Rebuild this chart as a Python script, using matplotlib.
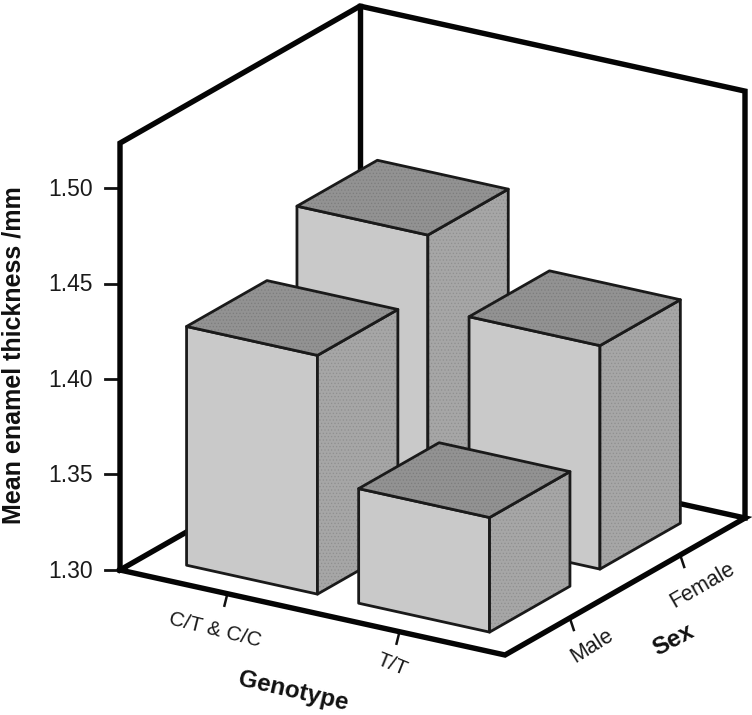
import numpy as np
import matplotlib
matplotlib.use('Agg')
import matplotlib.pyplot as plt
from matplotlib.patches import Polygon

plt.rcParams['font.family'] = ['Liberation Sans', 'DejaVu Sans']
plt.rcParams['hatch.linewidth'] = 0.5

# Data
genotypes = ['C/T & C/C', 'T/T']
sexes = ['Male', 'Female']
male_values = [1.425, 1.360]
female_values = [1.455, 1.417]
value_ticks = [1.30, 1.35, 1.40, 1.45, 1.50]

# Oblique projection (pixels): a along genotype, b along sex, v is the value
origin = np.array([120., 570.])
a_vec = np.array([385., 85.])
b_vec = np.array([240., -137.])
v_min, v_top = 1.30, 1.5235
px_per_unit = 1910.

a_pos = [0.279, 0.726]
b_pos = [0.27, 0.73]
a_width = 0.34
b_width = 0.335


def P(a, b, v=v_min):
    return origin + a*a_vec + b*b_vec - np.array([0, (v-v_min)*px_per_unit])


def line(ax, pts, lw=3.9, color='#050505'):
    pts = np.array(pts)
    ax.plot(pts[:, 0], pts[:, 1], color=color, lw=lw, solid_capstyle='projecting',
            solid_joinstyle='miter', zorder=2)


def face(ax, pts, color, zorder, stipple=None):
    if stipple:
        ax.add_patch(Polygon(pts, closed=True, facecolor=color, edgecolor=stipple, hatch='.....', lw=0, zorder=zorder))
    else:
        ax.add_patch(Polygon(pts, closed=True, facecolor=color, edgecolor='none', zorder=zorder))
    ax.add_patch(Polygon(pts, closed=True, fill=False, edgecolor='#1a1a1a', lw=2.0, joinstyle='round', zorder=zorder+0.1))


def bar(ax, ac, bc, v, zorder):
    a0, a1 = ac-a_width/2, ac+a_width/2
    b0, b1 = bc-b_width/2, bc+b_width/2
    front = [P(a0, b0), P(a1, b0), P(a1, b0, v), P(a0, b0, v)]
    side = [P(a1, b0), P(a1, b1), P(a1, b1, v), P(a1, b0, v)]
    top = [P(a0, b0, v), P(a1, b0, v), P(a1, b1, v), P(a0, b1, v)]
    face(ax, front, '#c9c9c9', zorder)
    face(ax, side, '#a6a6a6', zorder+0.2, stipple='#8f8f8f')
    face(ax, top, '#929292', zorder+0.4, stipple='#7c7c7c')


fig = plt.figure(figsize=(7.52, 7.15), dpi=100)
ax = fig.add_axes([0, 0, 1, 1])
ax.set_xlim(0, 752)
ax.set_ylim(715, 0)
ax.axis('off')

# Walls and floor
line(ax, [P(0, 0), P(0, 0, v_top), P(0, 1, v_top), P(1, 1, v_top), P(1, 1)])
line(ax, [P(0, 1), P(0, 1, v_top)])
line(ax, [P(0, 0), P(1, 0), P(1, 1), P(0, 1), P(0, 0)])

# Value ticks and labels
for v in value_ticks:
    p = P(0, 0, v)
    ax.plot([p[0]-15, p[0]], [p[1], p[1]], color='#111111', lw=2, zorder=1)
    ax.text(p[0]-27, p[1]+1, '%.2f' % v, ha='right', va='center', fontsize=16.5, color='#1a1a1a')

# Category ticks
for ac in a_pos:
    p = P(ac, 0)
    ax.plot([p[0], p[0]-3], [p[1], p[1]+12], color='#111111', lw=1.8, zorder=1)
for bc in b_pos:
    p = P(1, bc)
    ax.plot([p[0], p[0]+4], [p[1], p[1]+12], color='#111111', lw=1.8, zorder=1)

# Bars, back to front
z = 3
for i in [0, 1]:
    bar(ax, a_pos[i], b_pos[1], female_values[i], z)
    z += 1
for i in [0, 1]:
    bar(ax, a_pos[i], b_pos[0], male_values[i], z)
    z += 1

# Text
ax.text(215, 630, genotypes[0], ha='center', va='center', rotation=-14, fontsize=15, color='#1a1a1a')
ax.text(392, 665, genotypes[1], ha='center', va='center', rotation=-22, fontsize=15, color='#1a1a1a')
ax.text(592, 646, sexes[0], ha='center', va='center', rotation=32, fontsize=15.5, color='#1a1a1a')
ax.text(702, 585, sexes[1], ha='center', va='center', rotation=30, fontsize=15.5, color='#1a1a1a')
ax.text(293, 691, 'Genotype', ha='center', va='center', rotation=-13, fontsize=17.5, fontweight='bold', color='#111111')
ax.text(673, 640, 'Sex', ha='center', va='center', rotation=28, fontsize=17.5, fontweight='bold', color='#111111')
ax.text(14, 355, 'Mean enamel thickness /mm', ha='center', va='center', rotation=90, fontsize=18, fontweight='bold', color='#111111')

fig.savefig('out.png', dpi=100)
